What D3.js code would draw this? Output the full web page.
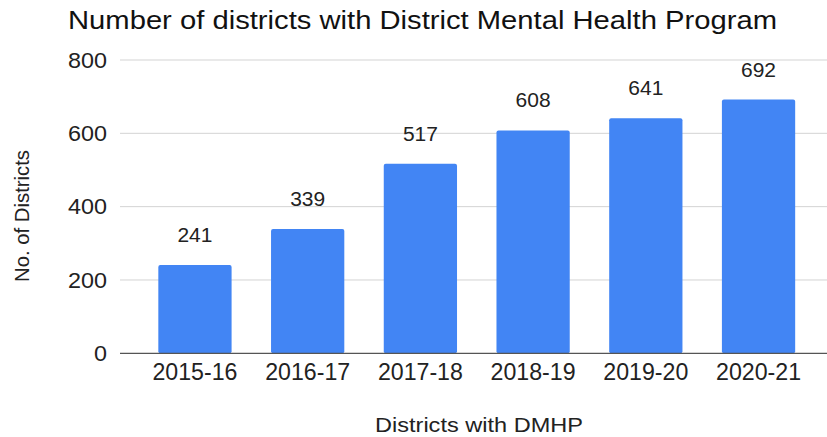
<!DOCTYPE html>
<html>
<head>
<meta charset="utf-8">
<script src="https://cdn.jsdelivr.net/npm/d3@7"></script>
<style>
  html, body { margin: 0; padding: 0; background: #fff; }
  svg { display: block; font-family: "Liberation Sans", Arial, sans-serif; }
</style>
</head>
<body>
<svg id="chart" width="827" height="437"></svg>
<script>
const categories = ["2015-16", "2016-17", "2017-18", "2018-19", "2019-20", "2020-21"];
const values = [241, 339, 517, 608, 641, 692];
const yTicks = [0, 200, 400, 600, 800];
const title = "Number of districts with District Mental Health Program";
const xTitle = "Districts with DMHP";
const yTitle = "No. of Districts";

const svg = d3.select("#chart");
const plotLeft = 120, plotRight = 827;
const y = d3.scaleLinear().domain([0, 800]).range([353.3, 60]);
const x = d3.scaleBand().domain(categories).range([138.6, 814.9]).paddingInner(0.35).paddingOuter(0.175);

// gridlines
svg.append("g").selectAll("line").data(yTicks.filter(d => d !== 0)).join("line")
  .attr("x1", plotLeft).attr("x2", plotRight)
  .attr("y1", d => y(d)).attr("y2", d => y(d))
  .attr("stroke", "#d3d3d3").attr("stroke-width", 1);

// bars
svg.append("g").selectAll("rect").data(values).join("rect")
  .attr("x", (d, i) => x(categories[i]))
  .attr("width", x.bandwidth())
  .attr("y", d => y(d))
  .attr("height", d => y(0) - y(d))
  .attr("rx", 2)
  .attr("fill", "#4285f4");

// baseline
svg.append("line").attr("x1", plotLeft).attr("x2", plotRight)
  .attr("y1", y(0)).attr("y2", y(0)).attr("stroke", "#555").attr("stroke-width", 1.2);

// y tick labels
svg.append("g").selectAll("text").data(yTicks).join("text")
  .attr("x", 107).attr("y", d => y(d)).attr("dy", "0.35em")
  .attr("text-anchor", "end").attr("font-size", 22).attr("fill", "#222")
  .attr("textLength", d => String(d).length * 13).attr("lengthAdjust", "spacingAndGlyphs")
  .text(d => d);

// x tick labels
svg.append("g").selectAll("text").data(categories).join("text")
  .attr("x", d => x(d) + x.bandwidth() / 2).attr("y", 380)
  .attr("text-anchor", "middle").attr("font-size", 23).attr("fill", "#222")
  .attr("textLength", 85).attr("lengthAdjust", "spacingAndGlyphs")
  .text(d => d);

// value labels
svg.append("g").selectAll("text").data(values).join("text")
  .attr("x", (d, i) => x(categories[i]) + x.bandwidth() / 2)
  .attr("y", d => y(d) - 23)
  .attr("text-anchor", "middle").attr("font-size", 20).attr("fill", "#222")
  .attr("textLength", 35).attr("lengthAdjust", "spacingAndGlyphs")
  .text(d => d);

// title
svg.append("text").attr("x", 68).attr("y", 29)
  .attr("font-size", 25).attr("fill", "#111")
  .attr("textLength", 709).attr("lengthAdjust", "spacingAndGlyphs")
  .text(title);

// x axis title
svg.append("text").attr("x", 375).attr("y", 432)
  .attr("font-size", 21).attr("fill", "#222")
  .attr("textLength", 208).attr("lengthAdjust", "spacingAndGlyphs")
  .text(xTitle);

// y axis title
svg.append("text").attr("transform", "translate(29,282) rotate(-90)")
  .attr("font-size", 20).attr("fill", "#222")
  .attr("textLength", 132).attr("lengthAdjust", "spacingAndGlyphs")
  .text(yTitle);
</script>
</body>
</html>
